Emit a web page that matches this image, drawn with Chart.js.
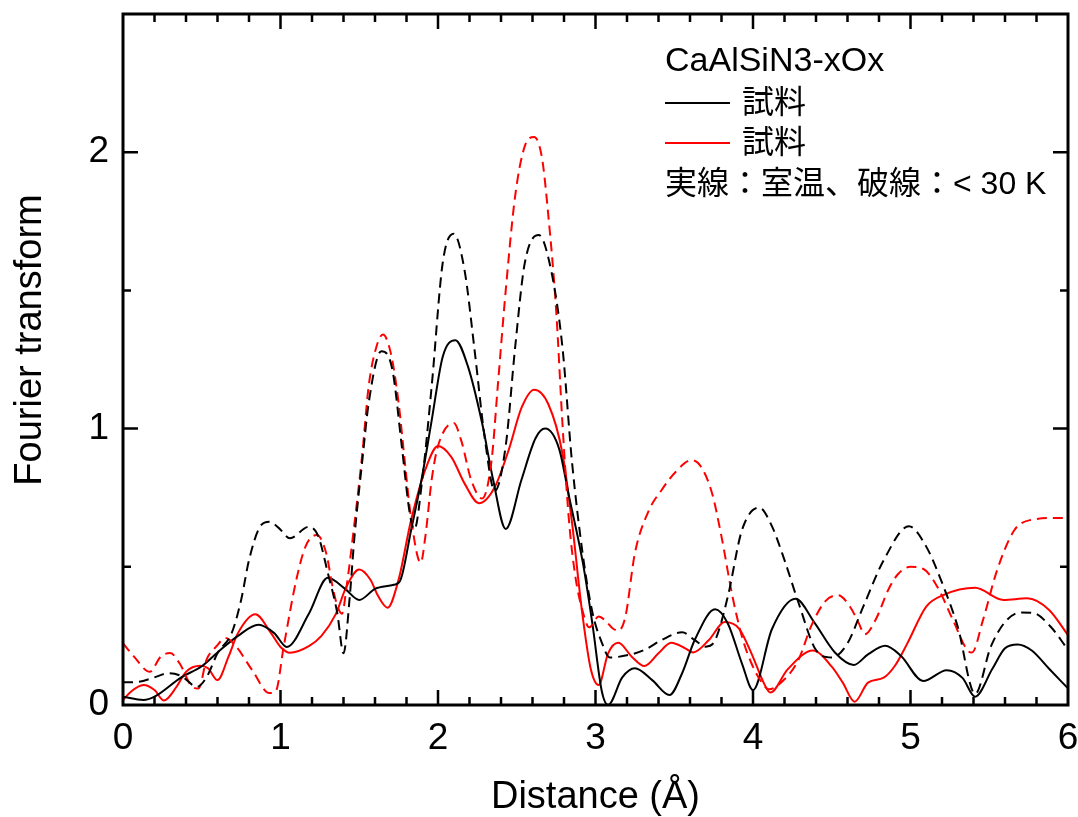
<!DOCTYPE html>
<html>
<head>
<meta charset="utf-8">
<script src="https://cdn.jsdelivr.net/npm/chart.js@4.4.1/dist/chart.umd.min.js"></script>
<style>
  html, body { margin: 0; padding: 0; background: #fff; }
  #wrap { width: 1078px; height: 817px; }
</style>
</head>
<body>
<div id="wrap"><canvas id="ftChart" width="1078" height="817"></canvas></div>
<script>
const FONT = "'Liberation Sans', Arial, 'Noto Sans CJK JP', sans-serif";

// black, room temperature (solid)
const rBlackRT = [0, 0.13, 0.2, 0.37, 0.5, 0.6, 0.73, 0.86, 0.96, 1.04, 1.18, 1.3, 1.41, 1.5, 1.6, 1.72, 1.76, 1.83, 1.9, 1.96,
    2.03, 2.11, 2.19, 2.28, 2.35, 2.43, 2.53, 2.62, 2.68, 2.77, 2.83, 2.92, 2.98, 3.04, 3.08, 3.17, 3.25, 3.36, 3.47, 3.55,
    3.63, 3.76, 3.84, 3.93, 4.0, 4.12, 4.27, 4.39, 4.52, 4.64, 4.73, 4.84, 4.94, 5.08, 5.23, 5.33, 5.41, 5.52, 5.6, 5.68,
    5.77, 5.88, 6.0];
const ftBlackRT = [0.03, 0.018, 0.03, 0.10, 0.14, 0.19, 0.25, 0.29, 0.26, 0.21, 0.33, 0.46, 0.42, 0.38, 0.42, 0.435, 0.45, 0.635, 0.83, 1.03,
    1.26, 1.32, 1.225, 1.02, 0.815, 0.637, 0.815, 0.966, 1.0, 0.925, 0.76, 0.514, 0.295, 0.05, 0.0, 0.10, 0.133, 0.09, 0.036, 0.115,
    0.235, 0.346, 0.295, 0.15, 0.054, 0.274, 0.384, 0.298, 0.19, 0.145, 0.183, 0.214, 0.177, 0.087, 0.126, 0.098, 0.03, 0.131, 0.205, 0.219,
    0.197, 0.131, 0.06];

// red, room temperature (solid)
const rRedRT = [0, 0.05, 0.13, 0.2, 0.26, 0.34, 0.4, 0.49, 0.54, 0.6, 0.67, 0.73, 0.84, 0.94, 1.0, 1.06, 1.18, 1.26, 1.35, 1.42,
    1.5, 1.57, 1.62, 1.68, 1.75, 1.83, 1.92, 2.0, 2.085, 2.17, 2.26, 2.36, 2.45, 2.53, 2.61, 2.7, 2.79, 2.85, 2.915, 2.97,
    3.02, 3.08, 3.145, 3.23, 3.31, 3.4, 3.48, 3.57, 3.62, 3.72, 3.82, 3.91, 3.99, 4.07, 4.11, 4.22, 4.38, 4.5, 4.57, 4.645,
    4.73, 4.83, 4.9, 4.98, 5.1, 5.21, 5.41, 5.59, 5.74, 5.88, 6.0];
const ftRedRT = [0.018, 0.048, 0.072, 0.054, 0.016, 0.066, 0.12, 0.142, 0.133, 0.09, 0.175, 0.26, 0.328, 0.26, 0.21, 0.189, 0.213, 0.25, 0.328, 0.43,
    0.49, 0.454, 0.394, 0.352, 0.454, 0.671, 0.852, 0.937, 0.897, 0.80, 0.73, 0.788, 0.925, 1.075, 1.141, 1.089, 0.911, 0.664, 0.336, 0.13,
    0.072, 0.187, 0.225, 0.175, 0.141, 0.187, 0.225, 0.205, 0.19, 0.235, 0.30, 0.277, 0.187, 0.078, 0.045, 0.129, 0.197, 0.139, 0.081, 0.012,
    0.081, 0.099, 0.141, 0.223, 0.356, 0.398, 0.424, 0.38, 0.386, 0.344, 0.253];

// black, < 30 K (dashed)
const rBlackLT = [0, 0.1, 0.2, 0.29, 0.37, 0.47, 0.53, 0.6, 0.69, 0.75, 0.8, 0.87, 0.93, 0.99, 1.06, 1.18, 1.24, 1.3, 1.36, 1.4,
    1.44, 1.47, 1.52, 1.56, 1.64, 1.71, 1.77, 1.82, 1.85, 1.9, 1.96, 2.03, 2.1, 2.17, 2.23, 2.3, 2.36, 2.43, 2.49, 2.55,
    2.64, 2.72, 2.79, 2.85, 2.92, 2.98, 3.04, 3.09, 3.21, 3.31, 3.42, 3.55, 3.63, 3.7, 3.76, 3.84, 3.93, 4.04, 4.12, 4.2,
    4.29, 4.4, 4.5, 4.6, 4.7, 4.83, 4.99, 5.1, 5.21, 5.3, 5.41, 5.51, 5.6, 5.7, 5.78, 5.89, 6.0];
const ftBlackLT = [0.082, 0.084, 0.10, 0.115, 0.105, 0.066, 0.10, 0.187, 0.26, 0.38, 0.524, 0.645, 0.663, 0.64, 0.603, 0.645, 0.61, 0.479, 0.334, 0.187,
    0.394, 0.611, 0.888, 1.093, 1.28, 1.214, 0.937, 0.696, 0.635, 0.816, 1.154, 1.6, 1.705, 1.568, 1.295, 0.952, 0.774, 0.938, 1.295, 1.596,
    1.70, 1.568, 1.295, 0.884, 0.541, 0.336, 0.226, 0.172, 0.181, 0.199, 0.235, 0.263, 0.235, 0.211, 0.235, 0.392, 0.633, 0.714, 0.647, 0.524,
    0.368, 0.199, 0.172, 0.223, 0.356, 0.524, 0.647, 0.573, 0.428, 0.283, 0.04, 0.211, 0.30, 0.335, 0.333, 0.283, 0.2];

// red, < 30 K (dashed)
const rRedLT = [0, 0.07, 0.17, 0.24, 0.3, 0.36, 0.44, 0.48, 0.53, 0.59, 0.65, 0.72, 0.82, 0.93, 0.97, 1.02, 1.1, 1.16, 1.23, 1.29,
    1.33, 1.36, 1.39, 1.42, 1.46, 1.52, 1.56, 1.61, 1.65, 1.7, 1.75, 1.79, 1.83, 1.89, 1.92, 1.96, 2.0, 2.1, 2.15, 2.21,
    2.28, 2.34, 2.38, 2.43, 2.49, 2.55, 2.61, 2.66, 2.7, 2.75, 2.79, 2.83, 2.87, 2.92, 2.96, 3.02, 3.06, 3.11, 3.145, 3.19,
    3.25, 3.34, 3.42, 3.51, 3.61, 3.67, 3.74, 3.8, 3.87, 3.93, 3.99, 4.06, 4.1, 4.2, 4.29, 4.37, 4.46, 4.54, 4.62, 4.67,
    4.71, 4.78, 4.86, 4.92, 5.0, 5.08, 5.17, 5.27, 5.36, 5.39, 5.46, 5.55, 5.66, 5.76, 5.95, 6.0];
const ftRedLT = [0.223, 0.175, 0.12, 0.175, 0.188, 0.15, 0.066, 0.06, 0.163, 0.21, 0.242, 0.21, 0.126, 0.043, 0.05, 0.21, 0.452, 0.575, 0.615, 0.55,
    0.43, 0.36, 0.33, 0.43, 0.611, 0.913, 1.154, 1.298, 1.34, 1.274, 1.093, 0.876, 0.671, 0.515, 0.611, 0.816, 0.937, 1.02, 0.952, 0.815,
    0.747, 0.884, 1.157, 1.5, 1.842, 2.02, 2.055, 1.98, 1.774, 1.43, 1.02, 0.678, 0.473, 0.336, 0.281, 0.32, 0.307, 0.277, 0.269, 0.32,
    0.549, 0.705, 0.778, 0.844, 0.886, 0.862, 0.766, 0.609, 0.392, 0.247, 0.151, 0.078, 0.057, 0.093, 0.165, 0.286, 0.376, 0.397, 0.352, 0.298,
    0.256, 0.31, 0.418, 0.473, 0.50, 0.493, 0.428, 0.307, 0.199, 0.19, 0.307, 0.488, 0.633, 0.669, 0.677, 0.677];

const xTickValues = [0, 1, 2, 3, 4, 5, 6];
const yTickValues = [0, 1, 2];
const yMinorValues = [0.5, 1.5];

const legendTitle = "CaAlSiN3-xOx";
const legendItems = [
    { label: "試料", color: "#000000" },
    { label: "試料", color: "#ff0000" }
];
const legendNote = "実線：室温、破線：< 30 K";

function toPoints(xs, ys) {
    return xs.map((x, i) => ({ x: x, y: ys[i] }));
}

function lineSet(xs, ys, color, dashed) {
    return {
        data: toPoints(xs, ys),
        borderColor: color,
        borderWidth: 2,
        borderDash: dashed ? [10, 6] : [],
        pointRadius: 0,
        fill: false,
        cubicInterpolationMode: "monotone"
    };
}

// frame with inward ticks on all four sides, like the original plot
const frameTicks = {
    id: "frameTicks",
    afterDraw(chart) {
        const { ctx, chartArea: a, scales: { x, y } } = chart;
        ctx.save();
        ctx.strokeStyle = "#000";
        ctx.lineCap = "butt";

        ctx.lineWidth = 2.5;
        ctx.beginPath();
        for (let i = 0; i <= 30; i++) {
            const v = i / 5;
            if (v === 0 || v === 6) continue;
            const px = x.getPixelForValue(v);
            const len = xTickValues.includes(v) ? 15 : 8;
            ctx.moveTo(px, a.bottom); ctx.lineTo(px, a.bottom - len);
            ctx.moveTo(px, a.top); ctx.lineTo(px, a.top + len);
        }
        yTickValues.concat(yMinorValues).forEach(v => {
            if (v === 0) return;
            const py = y.getPixelForValue(v);
            const len = yTickValues.includes(v) ? 15 : 8;
            ctx.moveTo(a.left, py); ctx.lineTo(a.left + len, py);
            ctx.moveTo(a.right, py); ctx.lineTo(a.right - len, py);
        });
        ctx.stroke();

        ctx.lineWidth = 3;
        ctx.strokeRect(a.left, a.top, a.right - a.left, a.bottom - a.top);

        // y axis title
        ctx.fillStyle = "#000";
        ctx.font = "38px " + FONT;
        ctx.textAlign = "center";
        ctx.textBaseline = "middle";
        ctx.translate(31, 340);
        ctx.rotate(-Math.PI / 2);
        ctx.fillText("Fourier transform", 0, 0);
        ctx.restore();
    }
};

const legendBox = {
    id: "legendBox",
    afterDraw(chart) {
        const { ctx, chartArea: a } = chart;
        const left = a.right - 403;
        ctx.save();
        ctx.fillStyle = "#000";
        ctx.textAlign = "left";
        ctx.textBaseline = "middle";
        ctx.font = "34px " + FONT;
        ctx.fillText(legendTitle, left, 62);

        ctx.font = "32px " + FONT;
        legendItems.forEach((item, i) => {
            const yy = 103 + i * 40;
            ctx.strokeStyle = item.color;
            ctx.lineWidth = 2;
            ctx.beginPath();
            ctx.moveTo(left, yy);
            ctx.lineTo(left + 65, yy);
            ctx.stroke();
            ctx.fillText(item.label, left + 77, yy + 1);
        });
        ctx.fillText(legendNote, left, 185);
        ctx.restore();
    }
};

const chart = new Chart(document.getElementById("ftChart"), {
    type: "line",
    data: {
        datasets: [
            lineSet(rBlackLT, ftBlackLT, "#000000", true),
            lineSet(rRedLT, ftRedLT, "#ff0000", true),
            lineSet(rBlackRT, ftBlackRT, "#000000", false),
            lineSet(rRedRT, ftRedRT, "#ff0000", false)
        ]
    },
    options: {
        responsive: false,
        animation: false,
        devicePixelRatio: 1,
        layout: { padding: { top: 14, right: 10, left: 0, bottom: 0 } },
        plugins: {
            legend: { display: false },
            tooltip: { enabled: false }
        },
        scales: {
            x: {
                type: "linear",
                min: 0,
                max: 6,
                afterFit: s => {
                    s.height = 112;
                    s.paddingLeft = 0;
                    s.paddingRight = 0;
                },
                grid: { display: false, drawTicks: false },
                border: { display: false },
                ticks: {
                    stepSize: 1,
                    padding: 12,
                    color: "#000",
                    font: { family: FONT, size: 37 }
                },
                title: {
                    display: true,
                    text: "Distance (Å)",
                    color: "#000",
                    padding: { top: 0, bottom: 0 },
                    font: { family: FONT, size: 38, lineHeight: 1 }
                }
            },
            y: {
                type: "linear",
                min: 0,
                max: 2.5,
                afterFit: s => {
                    s.width = 123;
                    s.paddingTop = 0;
                    s.paddingBottom = 0;
                },
                grid: { display: false, drawTicks: false },
                border: { display: false },
                ticks: {
                    stepSize: 1,
                    includeBounds: false,
                    padding: 14,
                    color: "#000",
                    font: { family: FONT, size: 37 },
                    callback: v => (yTickValues.includes(v) ? v : "")
                }
            }
        }
    },
    plugins: [frameTicks, legendBox]
});
</script>
</body>
</html>
